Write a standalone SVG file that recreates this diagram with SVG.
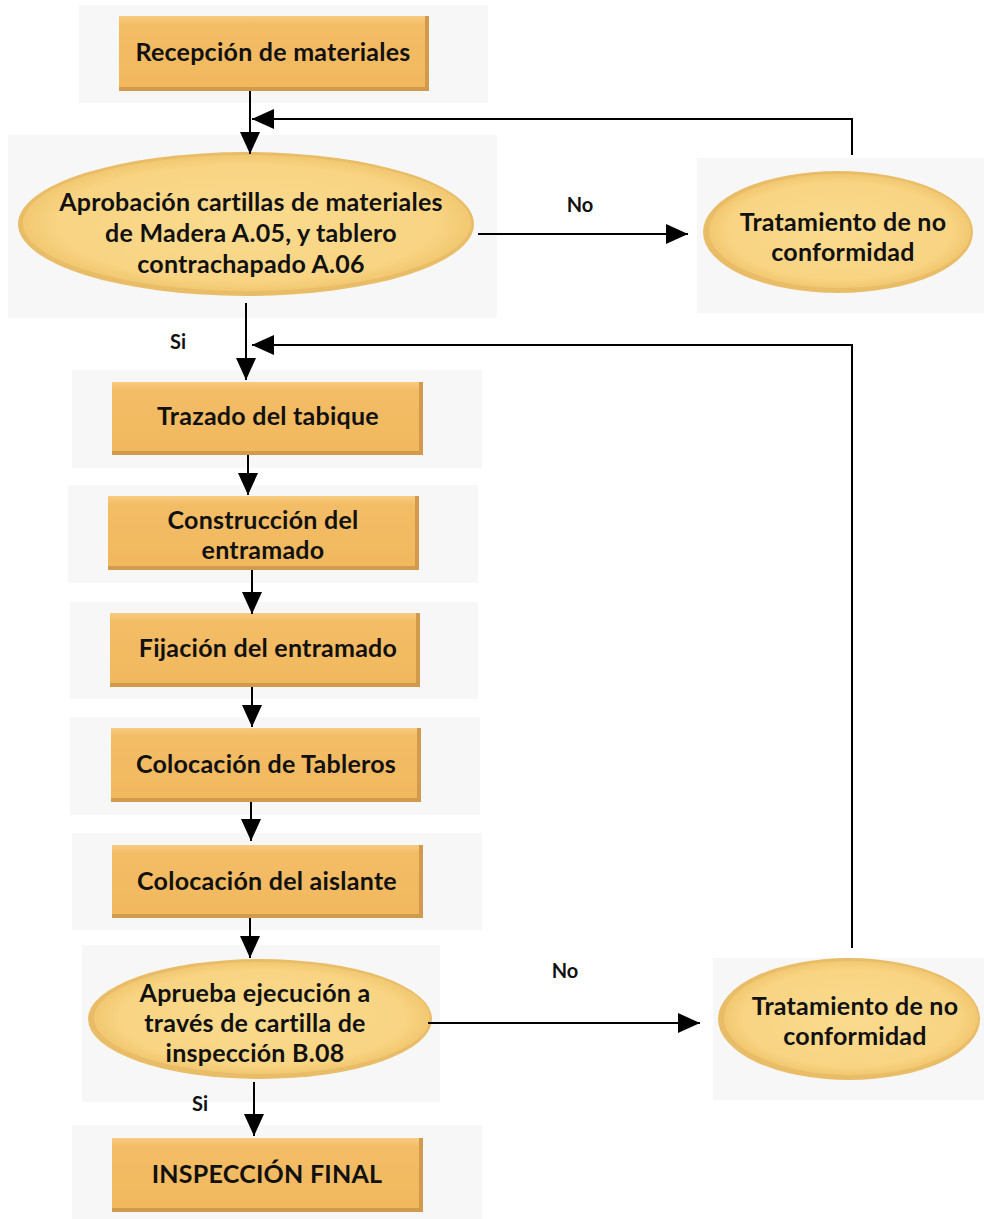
<svg xmlns="http://www.w3.org/2000/svg" width="984" height="1219" viewBox="0 0 984 1219">
<defs>
<linearGradient id="boxg" x1="0" y1="0" x2="0" y2="1">
<stop offset="0" stop-color="#F8CB80"/>
<stop offset="0.12" stop-color="#F3BD66"/>
<stop offset="1" stop-color="#F1B85E"/>
</linearGradient>
<radialGradient id="ellg" cx="0.5" cy="0.5" r="0.5">
<stop offset="0" stop-color="#FADB8E"/>
<stop offset="0.85" stop-color="#F8D483"/>
<stop offset="1" stop-color="#F2C871"/>
</radialGradient>
<marker id="ah" markerUnits="userSpaceOnUse" markerWidth="24" markerHeight="20" refX="22" refY="10" orient="auto">
<path d="M0,0 L22,10 L0,20 Z" fill="#000"/>
</marker>
</defs>
<style>
.bg{fill:#F7F7F7}
.edge{fill:#D29A4C}
.box{fill:url(#boxg)}
.eedge{fill:#E9BD68}
.ell{fill:url(#ellg)}
.t{font-family:Lato,"Liberation Sans",sans-serif;font-weight:bold;font-size:25px;letter-spacing:0.25px;fill:#111;text-anchor:middle}
.l{font-family:Lato,"Liberation Sans",sans-serif;font-weight:bold;font-size:20px;fill:#111;text-anchor:middle}
.c{fill:none;stroke:#000;stroke-width:2}
</style>
<rect width="984" height="1219" fill="#FFFFFF"/>

<g id="n1">
<rect class="bg" x="79" y="5" width="409" height="98"/>
<rect class="edge" x="119" y="16" width="310" height="75"/>
<rect class="box" x="119" y="16" width="306" height="71"/>
<text class="t" x="273" y="61">Recepción de materiales</text>
</g>

<g id="n2">
<rect class="bg" x="8" y="135" width="489" height="183"/>
<ellipse class="eedge" cx="246" cy="224" rx="228" ry="72"/>
<ellipse class="ell" cx="247" cy="223" rx="224" ry="68"/>
<text class="t" x="251" y="211">Aprobación cartillas de materiales</text>
<text class="t" x="251" y="242">de Madera A.05, y tablero</text>
<text class="t" x="251" y="273">contrachapado A.06</text>
</g>

<g id="n3">
<rect class="bg" x="697" y="158" width="287" height="155"/>
<ellipse class="eedge" cx="838" cy="232" rx="135" ry="61"/>
<ellipse class="ell" cx="840" cy="231" rx="131" ry="57"/>
<text class="t" x="843" y="231">Tratamiento de no</text>
<text class="t" x="843" y="261">conformidad</text>
</g>

<g id="n4">
<rect class="bg" x="72" y="370" width="410" height="98"/>
<rect class="edge" x="112" y="382" width="311" height="73"/>
<rect class="box" x="112" y="382" width="307" height="69"/>
<text class="t" x="268" y="425">Trazado del tabique</text>
</g>

<g id="n5">
<rect class="bg" x="68" y="485" width="410" height="98"/>
<rect class="edge" x="108" y="496" width="311" height="74"/>
<rect class="box" x="108" y="496" width="307" height="70"/>
<text class="t" x="263" y="529">Construcción del</text>
<text class="t" x="263" y="559">entramado</text>
</g>

<g id="n6">
<rect class="bg" x="70" y="602" width="408" height="97"/>
<rect class="edge" x="110" y="613" width="310" height="74"/>
<rect class="box" x="110" y="613" width="306" height="70"/>
<text class="t" x="268" y="657">Fijación del entramado</text>
</g>

<g id="n7">
<rect class="bg" x="70" y="717" width="410" height="98"/>
<rect class="edge" x="111" y="728" width="310" height="74"/>
<rect class="box" x="111" y="728" width="306" height="70"/>
<text class="t" x="266" y="773">Colocación de Tableros</text>
</g>

<g id="n8">
<rect class="bg" x="72" y="833" width="410" height="97"/>
<rect class="edge" x="112" y="845" width="311" height="73"/>
<rect class="box" x="112" y="845" width="307" height="69"/>
<text class="t" x="267" y="890">Colocación del aislante</text>
</g>

<g id="n9">
<rect class="bg" x="82" y="945" width="358" height="157"/>
<ellipse class="eedge" cx="260" cy="1019" rx="172" ry="60"/>
<ellipse class="ell" cx="262" cy="1018" rx="168" ry="56"/>
<text class="t" x="255" y="1002">Aprueba ejecución a</text>
<text class="t" x="255" y="1032">través de cartilla de</text>
<text class="t" x="255" y="1062">inspección B.08</text>
</g>

<g id="n10">
<rect class="bg" x="713" y="958" width="271" height="142"/>
<ellipse class="eedge" cx="849" cy="1019" rx="131" ry="61"/>
<ellipse class="ell" cx="851" cy="1018" rx="127" ry="57"/>
<text class="t" x="855" y="1015">Tratamiento de no</text>
<text class="t" x="855" y="1045">conformidad</text>
</g>

<g id="n11">
<rect class="bg" x="72" y="1125" width="410" height="94"/>
<rect class="edge" x="112" y="1138" width="311" height="74"/>
<rect class="box" x="112" y="1138" width="307" height="70"/>
<text class="t" x="267" y="1183">INSPECCIÓN FINAL</text>
</g>

<g id="connectors">
<path class="c" d="M250,91 V154" marker-end="url(#ah)"/>
<path class="c" d="M852,155 V119 H252" marker-end="url(#ah)"/>
<path class="c" d="M478,234 H688" marker-end="url(#ah)"/>
<path class="c" d="M246,303 V380" marker-end="url(#ah)"/>
<path class="c" d="M852,948 V345 H252" marker-end="url(#ah)"/>
<path class="c" d="M248,455 V495" marker-end="url(#ah)"/>
<path class="c" d="M252,570 V614" marker-end="url(#ah)"/>
<path class="c" d="M252,687 V727" marker-end="url(#ah)"/>
<path class="c" d="M251,802 V841" marker-end="url(#ah)"/>
<path class="c" d="M250,918 V958" marker-end="url(#ah)"/>
<path class="c" d="M428,1023 H700" marker-end="url(#ah)"/>
<path class="c" d="M254,1082 V1136" marker-end="url(#ah)"/>
<text class="l" x="580" y="212">No</text>
<text class="l" x="178" y="349">Si</text>
<text class="l" x="565" y="978">No</text>
<text class="l" x="200" y="1111">Si</text>
</g>
</svg>
